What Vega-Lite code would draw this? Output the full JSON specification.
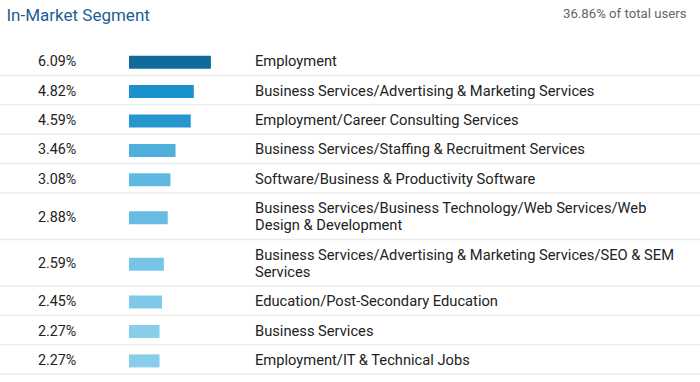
{
  "$schema": "https://vega.github.io/schema/vega-lite/v6.json",
  "width": 700,
  "height": 382,
  "autosize": "none",
  "padding": 0,
  "background": "white",
  "config": {
    "view": {"stroke": null},
    "font": "Roboto",
    "axisX": {"labels": false, "ticks": false, "domain": false, "grid": false, "titleX": 686, "titleY": 17, "titleAlign": "right", "titleBaseline": "alphabetic", "titleFontSize": 13.2, "titleFontWeight": "normal", "titleColor": "#666666", "titleFont": "Roboto"},
    "axisY": {"labels": false, "ticks": false, "domain": false, "grid": false, "titleAngle": 0, "titleX": 6, "titleY": 20, "titleAlign": "left", "titleBaseline": "alphabetic", "titleFontSize": 17, "titleFontWeight": "normal", "titleColor": "#1f5d96", "titleFont": "Roboto"}
  },
  "data": {
    "values": [
      {"pct": 6.09, "segment": "Employment"},
      {"pct": 4.82, "segment": "Business Services/Advertising & Marketing Services"},
      {"pct": 4.59, "segment": "Employment/Career Consulting Services"},
      {"pct": 3.46, "segment": "Business Services/Staffing & Recruitment Services"},
      {"pct": 3.08, "segment": "Software/Business & Productivity Software"},
      {"pct": 2.88, "segment": "Business Services/Business Technology/Web Services/Web\nDesign & Development"},
      {"pct": 2.59, "segment": "Business Services/Advertising & Marketing Services/SEO & SEM\nServices"},
      {"pct": 2.45, "segment": "Education/Post-Secondary Education"},
      {"pct": 2.27, "segment": "Business Services"},
      {"pct": 2.27, "segment": "Employment/IT & Technical Jobs"}
    ]
  },
  "transform": [
    {"calculate": "length(split(datum.segment, '\\n'))", "as": "lines"},
    {"calculate": "1 + 0.58 * (datum.lines - 1)", "as": "rowH"},
    {"window": [{"op": "sum", "field": "rowH", "as": "yEnd"}]},
    {"calculate": "datum.yEnd - datum.rowH / 2", "as": "yMid"},
    {"calculate": "datum.yMid - 0.29 * (datum.lines - 1)", "as": "textY"},
    {"calculate": "format(datum.pct, '.2f') + '%'", "as": "pctLabel"}
  ],
  "layer": [
    {
      "mark": {"type": "rule", "color": "#ebebeb", "strokeWidth": 1.5, "yOffset": -1.5},
      "encoding": {
        "y": {"field": "yEnd", "type": "quantitative", "scale": {"domain": [0, 11.16], "range": [47.5, 375.6], "padding": 0, "nice": false, "zero": false}, "axis": {"title": "In-Market Segment"}}
      }
    },
    {
      "mark": {"type": "bar", "orient": "horizontal", "height": 13},
      "encoding": {
        "y": {"field": "yMid", "type": "quantitative", "axis": {"title": "In-Market Segment"}},
        "x": {"field": "pct", "type": "quantitative", "scale": {"domain": [0, 10], "range": [129, 263.5], "padding": 0, "nice": false}, "axis": {"orient": "top", "title": "36.86% of total users"}},
        "color": {"field": "pct", "type": "quantitative", "legend": null, "scale": {"domain": [2.27, 2.59, 2.88, 3.46, 4.82, 6.09], "range": ["#88cde9", "#78c4e7", "#66bce3", "#4fb0de", "#1a91cc", "#0f6b9b"]}}
      }
    },
    {
      "mark": {"type": "text", "align": "left", "baseline": "middle", "fontSize": 14.3, "color": "#222222", "font": "Roboto"},
      "encoding": {
        "y": {"field": "yMid", "type": "quantitative", "axis": {"title": "In-Market Segment"}},
        "x": {"value": 38},
        "text": {"field": "pctLabel"}
      }
    },
    {
      "mark": {"type": "text", "align": "left", "baseline": "middle", "fontSize": 14.7, "lineHeight": 17, "lineBreak": "\n", "color": "#222222", "font": "Roboto"},
      "encoding": {
        "y": {"field": "textY", "type": "quantitative", "axis": {"title": "In-Market Segment"}},
        "x": {"value": 255},
        "text": {"field": "segment"}
      }
    }
  ]
}
